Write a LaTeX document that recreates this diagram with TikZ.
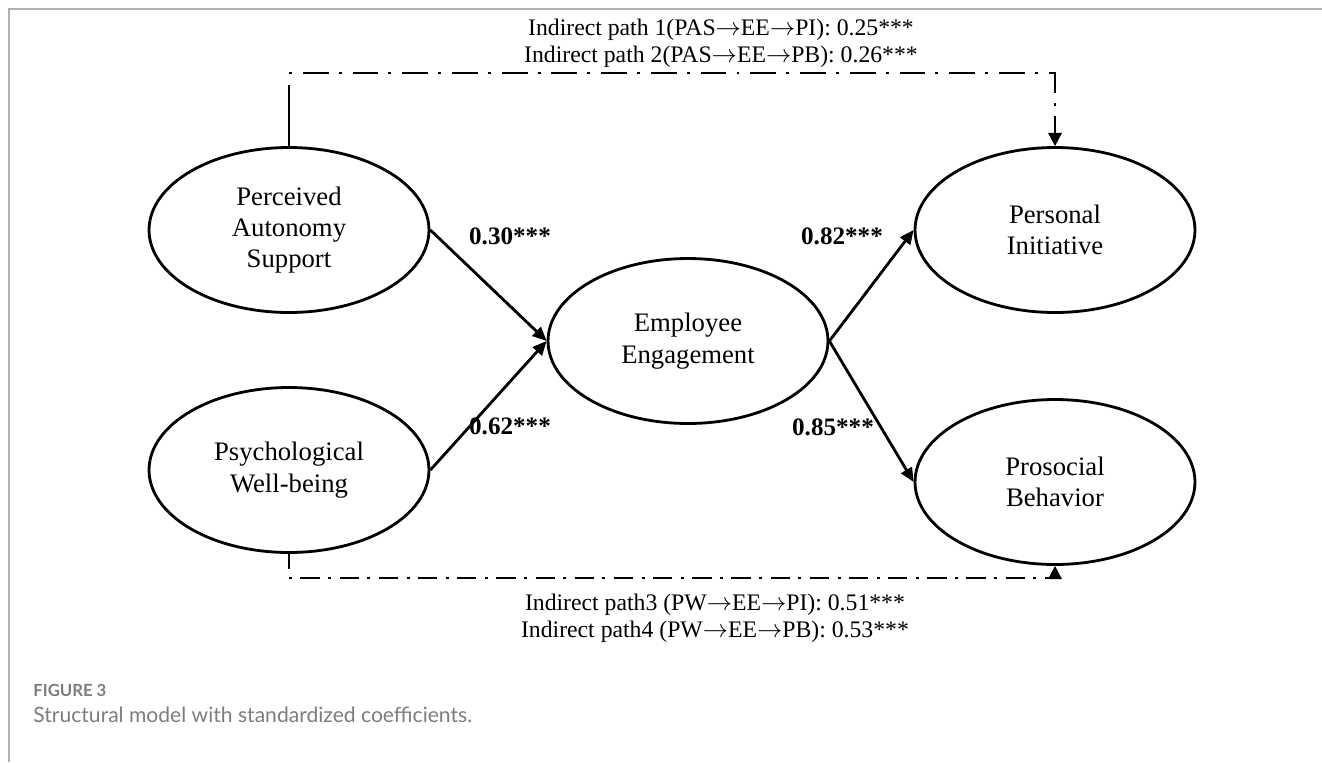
\documentclass[tikz,border=0pt]{standalone}
\usepackage{fontspec}
\setmainfont{Liberation Serif}
\newfontfamily\capfont{Lato}
\usetikzlibrary{arrows.meta,shapes.geometric}
\definecolor{framegray}{RGB}{176,176,176}
\definecolor{capgray}{RGB}{125,125,125}

\begin{document}
\begin{tikzpicture}[x=0.02cm, y=-0.02cm,
    latent/.style={ellipse, draw, line width=1.6pt, minimum width=5.6cm, minimum height=3.3cm,
                   inner sep=0pt, align=center, font=\fontsize{15.2}{17.8}\selectfont},
    effect/.style={line width=1.6pt, -{Triangle[length=8pt,width=7pt]}},
    coef/.style={font=\fontsize{14.3}{16}\selectfont\bfseries},
    indirect/.style={align=center, font=\fontsize{13.5}{15.4}\selectfont},
    topdash/.style={line width=1.6pt, dash pattern=on 1.7pt off 6.2pt on 14.7pt off 5.7pt,
                    -{Triangle[length=7.5pt,width=7.5pt]}},
    botdash/.style={line width=1.6pt, dash pattern=on 1.7pt off 4.8pt on 11pt off 4.8pt,
                    -{Triangle[length=7.5pt,width=7.5pt]}}]
  \useasboundingbox (0,0) rectangle (1322,762);
  % frame of the figure box
  \draw[framegray, line width=1.1pt] (9,762) -- (9,9) -- (1322,9);

  \node[latent] (pas) at (289,230) {Perceived\\Autonomy\\Support};
  \node[latent] (pw)  at (289,470) {Psychological\\Well-being};
  \node[latent] (ee)  at (688,341) {Employee\\Engagement};
  \node[latent] (pi)  at (1055,230) {Personal\\Initiative};
  \node[latent] (pb)  at (1055,482) {Prosocial\\Behavior};

  \draw[effect] (pas.east) -- (ee.west);
  \draw[effect] (pw.east) -- (ee.west);
  \draw[effect] (ee.east) -- (pi.west);
  \draw[effect] (ee.east) -- (pb.west);

  \node[coef] (c1) at (510,236) {0.30***};
  \node[coef] (c2) at (510,426) {0.62***};
  \node[coef] (c3) at (842,236) {0.82***};
  \node[coef] (c4) at (833,427) {0.85***};

  % indirect paths, solid stub then dash-dot
  \coordinate (topbend) at (289,73);
  \coordinate (botbend) at (289,578);
  \draw[line width=1.6pt] (pas.north) -- ([yshift=-7pt]topbend);
  \draw[topdash] (topbend) -| (pi.north);
  \draw[line width=1.6pt] (pw.south) -- ([yshift=5pt]botbend);
  \draw[botdash] (botbend) -| (pb.south);
  \node[indirect] (ind12) at (721,43) {Indirect path 1(PAS$\rightarrow$EE$\rightarrow$PI): 0.25***\\Indirect path 2(PAS$\rightarrow$EE$\rightarrow$PB): 0.26***};
  \node[indirect] (ind34) at (715,618) {Indirect path3 (PW$\rightarrow$EE$\rightarrow$PI): 0.51***\\Indirect path4 (PW$\rightarrow$EE$\rightarrow$PB): 0.53***};

  % caption
  \node[anchor=west, inner sep=0pt, capgray, font=\capfont\fontsize{9.5}{11}\selectfont\bfseries] (fig) at (33,690) {FIGURE 3};
  \node[anchor=west, inner sep=0pt, capgray, font=\capfont\fontsize{12}{13}\selectfont] (cap) at (33,715) {Structural model with standardized coefficients.};
\end{tikzpicture}
\end{document}
